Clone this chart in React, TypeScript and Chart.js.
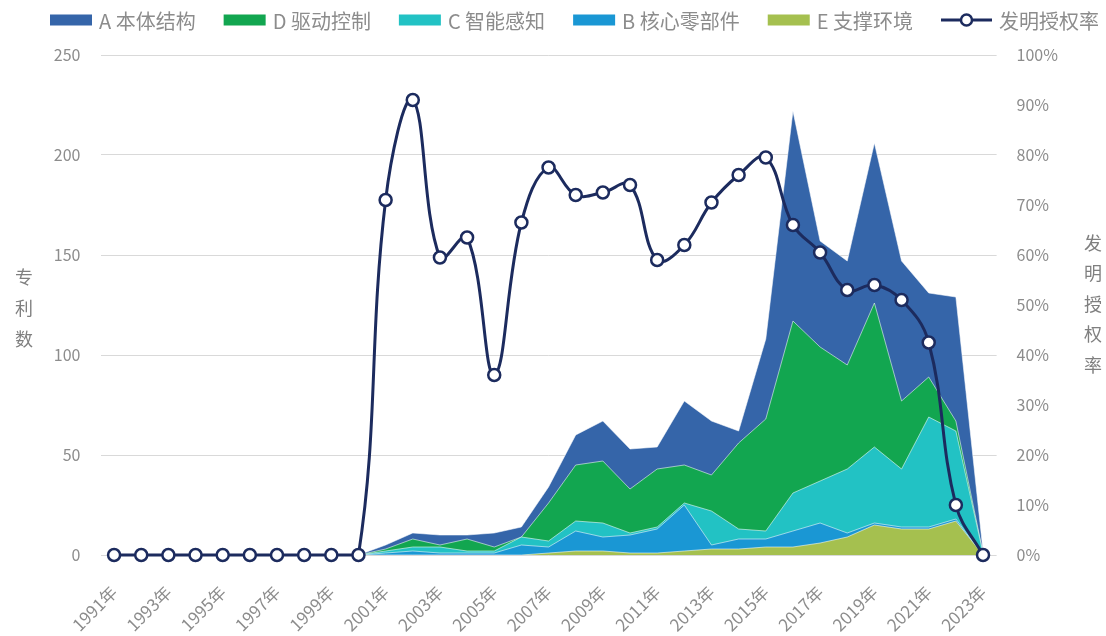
import React, { useEffect, useRef } from 'react';
import { Chart, registerables } from 'chart.js';

Chart.register(...registerables);

const yearLabels = [
  '1991年', '1992年', '1993年', '1994年', '1995年', '1996年', '1997年', '1998年', '1999年', '2000年',
  '2001年', '2002年', '2003年', '2004年', '2005年', '2006年', '2007年', '2008年', '2009年', '2010年',
  '2011年', '2012年', '2013年', '2014年', '2015年', '2016年', '2017年', '2018年', '2019年', '2020年',
  '2021年', '2022年', '2023年',
];

// patents per year (stacked areas)
const seriesA = [0, 0, 0, 0, 0, 0, 0, 0, 0, 0, 2, 3, 5, 2, 7, 5, 8, 15, 20, 20, 11, 32, 27, 6, 40, 105, 53, 52, 80, 70, 42, 62, 1];
const seriesD = [0, 0, 0, 0, 0, 0, 0, 0, 0, 0, 1, 4, 1, 6, 2, 0, 19, 28, 31, 22, 29, 19, 18, 43, 56, 86, 67, 52, 72, 34, 20, 5, 0];
const seriesC = [0, 0, 0, 0, 0, 0, 0, 0, 0, 0, 1, 2, 3, 1, 1, 4, 3, 5, 7, 1, 1, 1, 17, 5, 4, 19, 21, 32, 38, 29, 55, 44, 1];
const seriesB = [0, 0, 0, 0, 0, 0, 0, 0, 0, 0, 1, 2, 1, 1, 1, 5, 3, 10, 7, 9, 12, 23, 2, 5, 4, 8, 10, 2, 1, 1, 1, 1, 0];
const seriesE = [0, 0, 0, 0, 0, 0, 0, 0, 0, 0, 0, 0, 0, 0, 0, 0, 1, 2, 2, 1, 1, 2, 3, 3, 4, 4, 6, 9, 15, 13, 13, 17, 0];

// invention grant rate (%)
const grantRate = [0, 0, 0, 0, 0, 0, 0, 0, 0, 0, 71, 91, 59.5, 63.5, 36, 66.5, 77.5, 72, 72.5, 74, 59, 62, 70.5, 76, 79.5, 66, 60.5, 53, 54, 51, 42.5, 10, 0];

const seriesNames = ['A 本体结构', 'D 驱动控制', 'C 智能感知', 'B 核心零部件', 'E 支撑环境', '发明授权率'];
const leftTitle = '专利数';
const rightTitle = '发明授权率';

const COLORS = {
  A: '#3565A9',
  D: '#12A650',
  C: '#22C2C4',
  B: '#1A97D4',
  E: '#A5C04F',
  line: '#1C2B5E',
};
const TEXT = '#8C8C8C';
const FONT = "'Noto Sans CJK SC', 'Noto Sans', sans-serif";

const legendEntries = [
  { name: seriesNames[0], color: COLORS.A, kind: 'box' },
  { name: seriesNames[1], color: COLORS.D, kind: 'box' },
  { name: seriesNames[2], color: COLORS.C, kind: 'box' },
  { name: seriesNames[3], color: COLORS.B, kind: 'box' },
  { name: seriesNames[4], color: COLORS.E, kind: 'box' },
  { name: seriesNames[5], color: COLORS.line, kind: 'line' },
];

const customLegend = {
  id: 'customLegend',
  afterDraw(chart: any) {
    const { ctx } = chart;
    const cy = 20;
    let x = 50;
    ctx.save();
    ctx.font = `20px ${FONT}`;
    ctx.textAlign = 'left';
    ctx.textBaseline = 'middle';
    legendEntries.forEach((it) => {
      if (it.kind === 'box') {
        ctx.fillStyle = it.color;
        ctx.fillRect(x, cy - 5.5, 42, 11);
        x += 42;
      } else {
        ctx.strokeStyle = it.color;
        ctx.lineWidth = 3;
        ctx.beginPath();
        ctx.moveTo(x, cy);
        ctx.lineTo(x + 51, cy);
        ctx.stroke();
        ctx.beginPath();
        ctx.arc(x + 25.5, cy, 5.5, 0, Math.PI * 2);
        ctx.fillStyle = '#ffffff';
        ctx.fill();
        ctx.lineWidth = 2.5;
        ctx.stroke();
        x += 51;
      }
      x += 7;
      ctx.fillStyle = TEXT;
      ctx.fillText(it.name, x, cy + 1);
      x += ctx.measureText(it.name).width + 28;
    });
    ctx.restore();
  },
};

const verticalTitles = {
  id: 'verticalTitles',
  afterDraw(chart: any) {
    const { ctx, chartArea } = chart;
    const mid = (chartArea.top + chartArea.bottom) / 2;
    ctx.save();
    ctx.fillStyle = '#7F7F7F';
    ctx.font = `18px ${FONT}`;
    ctx.textAlign = 'center';
    ctx.textBaseline = 'middle';
    const draw = (text: string, x: number, cy: number, step: number) => {
      const chars = Array.from(text);
      chars.forEach((ch, i) => {
        ctx.fillText(ch, x, cy + (i - (chars.length - 1) / 2) * step);
      });
    };
    draw(leftTitle, 24, mid + 3, 31);
    draw(rightTitle, 1093, mid - 1, 30.5);
    ctx.restore();
  },
};

export default function App() {
  const canvasRef = useRef<HTMLCanvasElement | null>(null);

  useEffect(() => {
    if (!canvasRef.current) return;
    Chart.defaults.font.family = FONT;

    const area = (label: string, data: number[], color: string) => ({
      type: 'line' as const,
      label,
      data,
      yAxisID: 'y',
      backgroundColor: color,
      borderColor: 'rgba(255,255,255,0.55)',
      borderWidth: 1,
      pointRadius: 0,
      pointHoverRadius: 0,
      tension: 0,
      fill: 'origin',
    });

    const chart = new Chart(canvasRef.current, {
      type: 'line',
      data: {
        labels: yearLabels,
        datasets: [
          {
            type: 'line',
            label: seriesNames[5],
            data: grantRate,
            yAxisID: 'y1',
            borderColor: COLORS.line,
            backgroundColor: '#ffffff',
            borderWidth: 3,
            pointRadius: 6,
            pointBorderWidth: 2.5,
            pointBackgroundColor: '#ffffff',
            pointBorderColor: COLORS.line,
            tension: 0.4,
            fill: false,
            clip: false,
          } as any,
          area(seriesNames[4], seriesE, COLORS.E),
          area(seriesNames[3], seriesB, COLORS.B),
          area(seriesNames[2], seriesC, COLORS.C),
          area(seriesNames[1], seriesD, COLORS.D),
          area(seriesNames[0], seriesA, COLORS.A),
        ],
      },
      options: {
        responsive: false,
        animation: false,
        layout: { padding: { top: 55, left: 0, right: 0, bottom: 0 } },
        plugins: {
          tooltip: { enabled: false },
          legend: { display: false },
        },
        scales: {
          x: {
            type: 'category',
            offset: true,
            grid: { display: false, drawTicks: false },
            border: { display: false },
            ticks: {
              autoSkip: false,
              maxRotation: 45,
              minRotation: 45,
              padding: 27,
              color: TEXT,
              font: { size: 17, family: FONT },
              callback: (_v: any, i: number) => (i % 2 === 0 ? yearLabels[i] : ''),
            },
            afterFit: (s: any) => {
              s.height = 81;
            },
          },
          y: {
            type: 'linear',
            position: 'left',
            stacked: true,
            min: 0,
            max: 250,
            grid: { color: '#D9D9D9', drawTicks: false, lineWidth: 1 },
            border: { display: false },
            ticks: {
              stepSize: 50,
              padding: 20,
              color: TEXT,
              font: { size: 16, family: FONT },
            },
            afterFit: (s: any) => {
              s.width = 100.5;
            },
          },
          y1: {
            type: 'linear',
            position: 'right',
            stacked: false,
            min: 0,
            max: 100,
            grid: { display: false, drawTicks: false },
            border: { display: false },
            ticks: {
              stepSize: 10,
              padding: 20,
              color: TEXT,
              font: { size: 16, family: FONT },
              callback: (v: any) => `${v}%`,
            },
            afterFit: (s: any) => {
              s.width = 109.4;
            },
          },
        },
      },
      plugins: [verticalTitles, customLegend],
    });

    return () => chart.destroy();
  }, []);

  return (
    <div style={{ position: 'fixed', left: 0, top: 0, width: 1106, height: 636, background: '#ffffff' }}>
      <canvas ref={canvasRef} width={1106} height={636} style={{ display: 'block' }} />
    </div>
  );
}
